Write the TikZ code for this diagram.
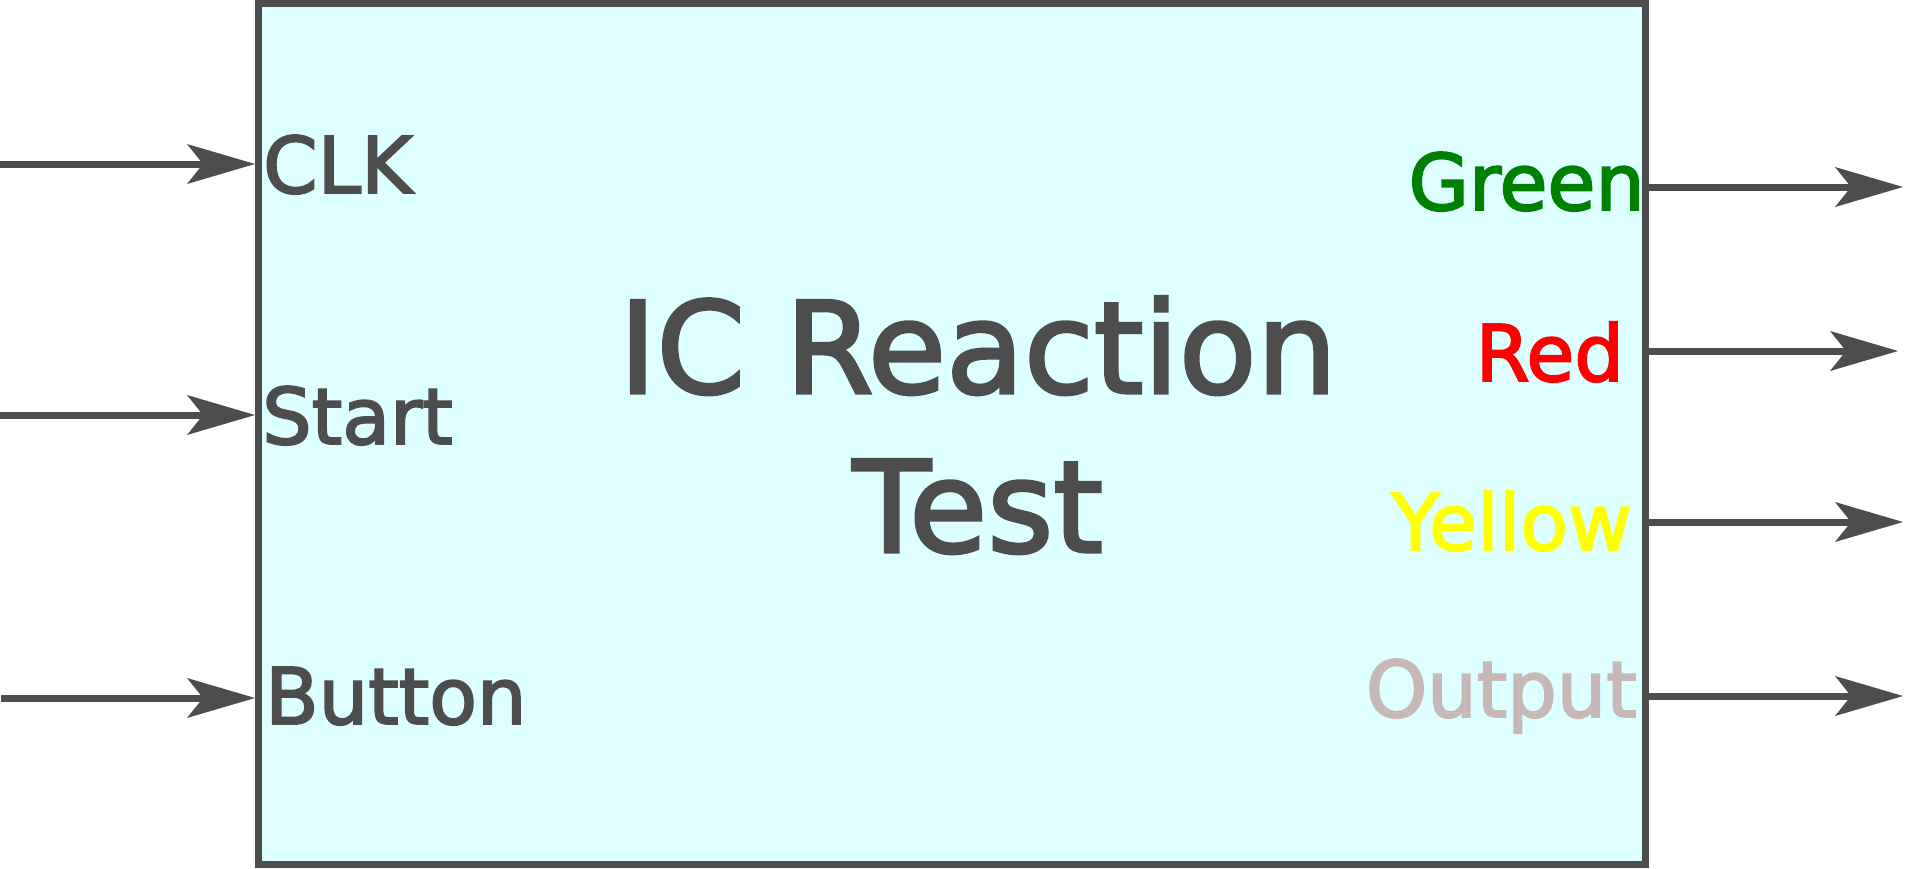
\documentclass[tikz,border=0pt]{standalone}
\usepackage{fontspec}
\setmainfont{DejaVu Sans}
\newfontfamily\heavyfont{DejaVu Sans}[FakeBold=2.5]
\usetikzlibrary{arrows.meta}
\definecolor{edge}{HTML}{4D4D4D}
\definecolor{boxfill}{HTML}{DDFFFF}
\definecolor{outcol}{HTML}{C8B7B7}
\definecolor{grn}{HTML}{008000}
\definecolor{rd}{HTML}{FF0000}
\definecolor{yel}{HTML}{FFFF00}
\begin{document}
\begin{tikzpicture}[x=1pt,y=-1pt,
  lbl/.style={inner sep=0pt, text=edge, font=\heavyfont\fontsize{78}{94}\selectfont},
  ttl/.style={inner sep=0pt, text=edge, font=\heavyfont\fontsize{127}{150}\selectfont},
  arr/.style={draw=edge, line width=7pt, -{Stealth[length=68pt,width=40pt,inset=16pt,line width=0pt]}},
  icbox/.style={draw=edge, fill=boxfill, line width=7pt, minimum width=1387pt, minimum height=861pt, inner sep=0pt}
]
\useasboundingbox (0,0) rectangle (1905,868);
\node[icbox] (ic) at (952,434) {};
% title
\node[ttl, anchor=base] (t1) at (978,393) {IC Reaction};
\node[ttl, anchor=base] (t2) at (978,552) {Test};
% input labels
\node[lbl, anchor=base west] (lclk) at (263,193) {CLK};
\node[lbl, anchor=base west] (lstart) at (262,444) {Start};
\node[lbl, anchor=base west] (lbutton) at (265,724) {Button};
% output labels
\node[lbl, anchor=base east, text=grn] (lgreen) at (1645,210) {Green};
\node[lbl, anchor=base east, text=rd] (lred) at (1624,381) {Red};
\node[lbl, anchor=base east, text=yel] (lyellow) at (1632,550) {Yellow};
\node[lbl, anchor=base east, text=outcol] (loutput) at (1637,717) {Output};
% connector ends
\coordinate (inclk) at (0,164);
\coordinate (instart) at (0,415);
\coordinate (inbutton) at (1,698);
\coordinate (outgreen) at (1903,187);
\coordinate (outred) at (1898,351);
\coordinate (outyellow) at (1903,522);
\coordinate (outoutput) at (1903,696);
% connectors
\draw[arr] (inclk) -- (inclk -| ic.west);
\draw[arr] (instart) -- (instart -| ic.west);
\draw[arr] (inbutton) -- (inbutton -| ic.west);
\draw[arr] (ic.east |- outgreen) -- (outgreen);
\draw[arr] (ic.east |- outred) -- (outred);
\draw[arr] (ic.east |- outyellow) -- (outyellow);
\draw[arr] (ic.east |- outoutput) -- (outoutput);
\end{tikzpicture}
\end{document}
